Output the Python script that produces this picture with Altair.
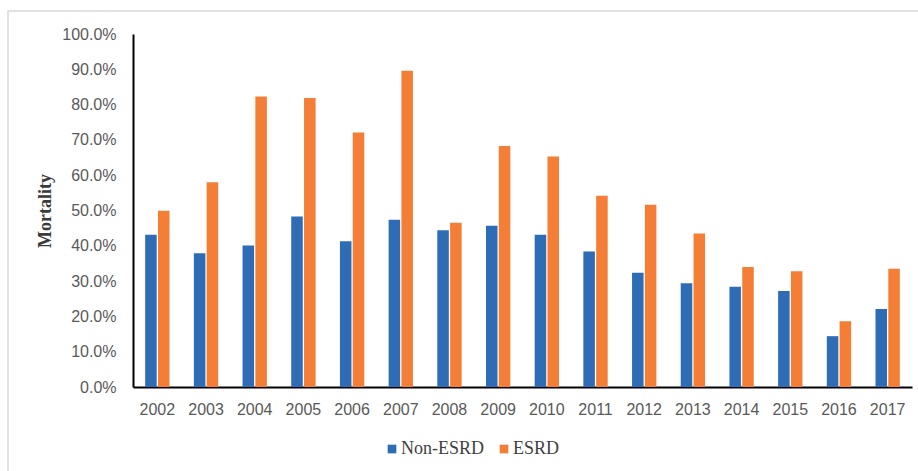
import altair as alt
import pandas as pd

years = ["2002", "2003", "2004", "2005", "2006", "2007", "2008", "2009",
         "2010", "2011", "2012", "2013", "2014", "2015", "2016", "2017"]
non_esrd = [43.1, 37.9, 40.1, 48.3, 41.3, 47.4, 44.4, 45.7,
            43.1, 38.4, 32.4, 29.4, 28.4, 27.2, 14.4, 22.1]
esrd = [49.9, 58.0, 82.3, 81.9, 72.1, 89.6, 46.5, 68.3,
        65.3, 54.2, 51.6, 43.5, 34.0, 32.8, 18.6, 33.5]
series = ["Non-ESRD", "ESRD"]
colors = ["#2E6DB5", "#F47E36"]
y_ticks = [0, 0.1, 0.2, 0.3, 0.4, 0.5, 0.6, 0.7, 0.8, 0.9, 1.0]

rows = []
for i, yr in enumerate(years):
    rows.append({"Year": yr, "Series": series[0], "Value": non_esrd[i] / 100})
    rows.append({"Year": yr, "Series": series[1], "Value": esrd[i] / 100})
df = pd.DataFrame(rows)

label_font = "Liberation Sans"
label_color = "#595959"

bars = alt.Chart(df).mark_bar().encode(
    x=alt.X("Year:N", sort=years,
            scale=alt.Scale(paddingInner=0.5, paddingOuter=0.25),
            axis=alt.Axis(title=None, labelAngle=0, ticks=False, tickSize=0,
                          labelPadding=14, domainColor="#000000", domainWidth=2,
                          labelFont=label_font, labelFontSize=16,
                          labelColor=label_color)),
    xOffset=alt.XOffset("Series:N", sort=series,
                        scale=alt.Scale(paddingInner=0.1)),
    y=alt.Y("Value:Q", scale=alt.Scale(domain=[0, 1]),
            axis=alt.Axis(title="Mortality", format=".1%", values=y_ticks,
                          grid=False, ticks=False, tickSize=0, labelPadding=17,
                          domainColor="#000000", domainWidth=2,
                          labelFont=label_font, labelFontSize=16,
                          labelColor=label_color,
                          titleFont="Liberation Serif", titleFontWeight="bold",
                          titleFontSize=18, titleColor="#3A3A3A",
                          titleX=-88, titleY=176.5, titleAngle=-90,
                          titleAlign="center", titleBaseline="middle")),
    color=alt.Color("Series:N", sort=series,
                    scale=alt.Scale(domain=series, range=colors),
                    legend=alt.Legend(title=None, orient="none", legendX=250,
                                      legendY=406, direction="horizontal",
                                      symbolType="square", symbolSize=75,
                                      symbolStrokeWidth=0,
                                      labelFont="Liberation Serif",
                                      labelFontSize=18, labelColor="#404040",
                                      columnPadding=10, labelOffset=0)),
)

frame_df = pd.DataFrame({"k": [0]})
frame = alt.Chart(frame_df).mark_rect(fill=None, stroke="#D9D9D9", strokeWidth=1.5).encode(
    x=alt.value(-125), x2=alt.value(790), y=alt.value(-23), y2=alt.value(450)
)

chart = alt.layer(frame, bars).properties(
    width=779, height=353,
    padding={"left": 133, "top": 34, "right": 6, "bottom": 84},
    autosize=alt.AutoSizeParams(type="none"),
    background="white",
).configure_view(stroke=None)

chart.save("out.html", embed_options={"renderer": "svg", "actions": False})
